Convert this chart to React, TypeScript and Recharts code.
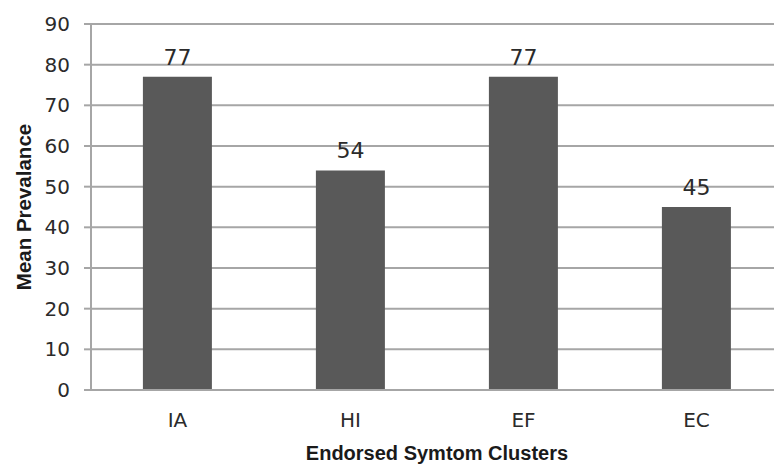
import React from 'react';
import {
  BarChart,
  Bar,
  XAxis,
  YAxis,
  CartesianGrid,
  LabelList,
  Label
} from 'recharts';

// Symptom clusters and their mean prevalence
const clusters = ['IA', 'HI', 'EF', 'EC'];
const prevalence = [77, 54, 77, 45];
const yTicks = [0, 10, 20, 30, 40, 50, 60, 70, 80, 90];

const chartData = clusters.map((name, i) => ({ name, value: prevalence[i] }));

const FONT = '"DejaVu Sans", sans-serif';
const TITLE_FONT = '"Liberation Sans", Arial, sans-serif';
const TEXT = '#2b2b2b';
const GRID = '#a6a6a6';

// Rotated title, centred on the y axis band
const YTitle = (props: any) => {
  const { viewBox } = props;
  const cx = viewBox.x + 23;
  const cy = viewBox.y + viewBox.height / 2;
  return (
    <text
      x={cx}
      y={cy}
      transform={`rotate(-90, ${cx}, ${cy})`}
      textAnchor="middle"
      dominantBaseline="central"
      fontFamily={TITLE_FONT}
      fontWeight="bold"
      fontSize={20.5}
      fill="#1a1a1a"
    >
      Mean Prevalance
    </text>
  );
};

const XTitle = (props: any) => {
  const { viewBox } = props;
  return (
    <text
      x={viewBox.x + viewBox.width / 2}
      y={viewBox.y + 70}
      textAnchor="middle"
      fontFamily={TITLE_FONT}
      fontWeight="bold"
      fontSize={20}
      fill="#1a1a1a"
    >
      Endorsed Symtom Clusters
    </text>
  );
};

const App: React.FC = () => {
  return (
    <div
      style={{
        position: 'absolute',
        top: 0,
        left: 0,
        width: 774,
        height: 465,
        overflow: 'hidden',
        background: '#fff'
      }}
    >
      <BarChart
        width={790}
        height={465}
        data={chartData}
        margin={{ top: 24, right: 7, bottom: 0, left: 0 }}
        barCategoryGap="30%"
      >
        <CartesianGrid vertical={false} stroke={GRID} strokeWidth={2} />
        <XAxis
          dataKey="name"
          height={75}
          tickLine={false}
          tickSize={6}
          tickMargin={17}
          axisLine={{ stroke: GRID, strokeWidth: 2 }}
          tick={{ fill: TEXT, fontSize: 20, fontFamily: FONT }}
        >
          <Label content={<XTitle />} />
        </XAxis>
        <YAxis
          width={91}
          domain={[0, 90]}
          ticks={yTicks}
          interval={0}
          tickSize={7}
          tickMargin={14}
          tickLine={{ stroke: GRID, strokeWidth: 2 }}
          axisLine={{ stroke: GRID, strokeWidth: 2 }}
          tick={{ fill: TEXT, fontSize: 20, fontFamily: FONT }}
        >
          <Label content={<YTitle />} />
        </YAxis>
        <Bar dataKey="value" fill="#595959" isAnimationActive={false}>
          <LabelList
            dataKey="value"
            position="top"
            offset={12}
            fill={TEXT}
            fontSize={22}
            fontFamily={FONT}
          />
        </Bar>
      </BarChart>
    </div>
  );
};

export default App;
